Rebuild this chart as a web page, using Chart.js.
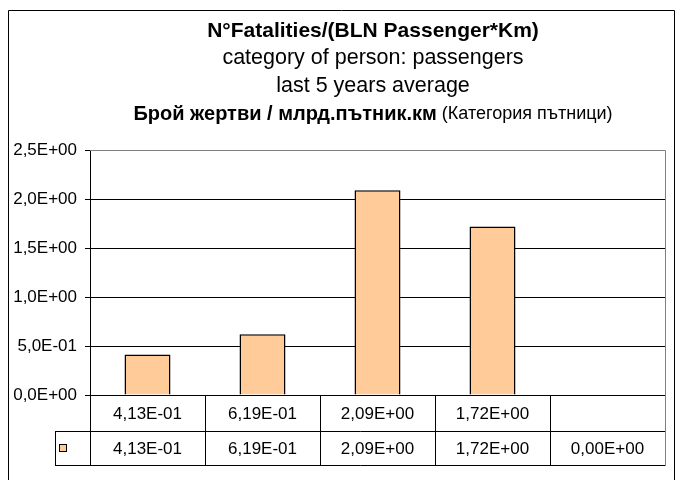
<!DOCTYPE html>
<html>
<head>
<meta charset="utf-8">
<script src="https://cdn.jsdelivr.net/npm/chart.js"></script>
<style>
  body { margin: 0; background: #fff; }
</style>
</head>
<body>
<canvas id="myChart" width="681" height="480"></canvas>
<script>
// data
var categories = ['4,13E-01', '6,19E-01', '2,09E+00', '1,72E+00', ''];
var values = [0.413, 0.619, 2.09, 1.72, 0];
var yTicks = [0, 0.5, 1, 1.5, 2, 2.5];
var titleLines = ['N°Fatalities/(BLN Passenger*Km)', 'category of person: passengers', 'last 5 years average'];
var titleBg = ['Брой жертви / млрд.пътник.км', ' (Категория пътници)'];

var FONT = '"Liberation Sans", Arial, sans-serif';
var BAR = '#FFCC99';

// 2.5 -> "2,5E+00"
function sci(v, d) {
    var s = v.toExponential(d).split('e');
    var e = parseInt(s[1], 10);
    return s[0].replace('.', ',') + 'E' + (e < 0 ? '-' : '+') + String(Math.abs(e)).padStart(2, '0');
}

// titles, data table under the axis and the outer frame
var extras = {
    id: 'extras',
    afterDraw: function (chart) {
        var c = chart.ctx, a = chart.chartArea, x = chart.scales.x;
        var cx = 373;
        c.save();
        c.fillStyle = '#000';
        c.textBaseline = 'middle';
        c.textAlign = 'center';
        c.font = 'bold 21px ' + FONT;
        c.fillText(titleLines[0], cx, 31);
        c.font = '21.5px ' + FONT;
        c.fillText(titleLines[1], cx, 58);
        c.fillText(titleLines[2], cx, 86);

        c.font = 'bold 20px ' + FONT;
        var w1 = c.measureText(titleBg[0]).width;
        c.font = '18px ' + FONT;
        var w2 = c.measureText(titleBg[1]).width;
        var sx = cx - (w1 + w2) / 2;
        c.textAlign = 'left';
        c.font = 'bold 20px ' + FONT;
        c.fillText(titleBg[0], sx, 114);
        c.font = '18px ' + FONT;
        c.fillText(titleBg[1], sx + w1, 114);

        // table
        var top = a.bottom, r1 = top + 36, r2 = r1 + 34, keyL = 55.5;
        var half = (x.getPixelForTick(1) - x.getPixelForTick(0)) / 2;
        c.lineWidth = 1;
        c.strokeStyle = '#000';
        c.beginPath();
        c.moveTo(keyL, r1 + 0.5); c.lineTo(a.right, r1 + 0.5);
        c.moveTo(keyL, r2 + 0.5); c.lineTo(a.right, r2 + 0.5);
        c.moveTo(keyL, r1); c.lineTo(keyL, r2 + 1);
        c.moveTo(a.left + 0.5, top); c.lineTo(a.left + 0.5, r2 + 1);
        for (var i = 1; i < categories.length; i++) {
            var dx = Math.round(x.getPixelForTick(i) - half) + 0.5;
            c.moveTo(dx, top); c.lineTo(dx, r2 + 1);
        }
        c.stroke();
        // gray right/top border of the plot area
        c.strokeStyle = '#808080';
        c.beginPath();
        c.moveTo(a.left, a.top + 0.5); c.lineTo(a.right + 0.5, a.top + 0.5);
        c.lineTo(a.right + 0.5, r2 + 1);
        c.stroke();

        c.textAlign = 'center';
        c.font = '17px ' + FONT;
        for (var j = 0; j < categories.length; j++) {
            var px = x.getPixelForTick(j);
            c.fillText(categories[j], px, (top + r1) / 2 + 1);
            c.fillText(sci(values[j], 2), px, (r1 + r2) / 2 + 1);
        }
        // legend key
        c.fillStyle = BAR;
        c.fillRect(59.5, 444.5, 7, 7);
        c.strokeStyle = '#000';
        c.strokeRect(59.5, 444.5, 7, 7);

        // outer frame
        c.beginPath();
        c.moveTo(8.5, 480); c.lineTo(8.5, 10.5); c.lineTo(674.5, 10.5); c.lineTo(674.5, 480);
        c.stroke();
        c.restore();
    }
};

Chart.defaults.font.family = FONT;
Chart.defaults.color = '#000';

new Chart(document.getElementById('myChart'), {
    type: 'bar',
    data: {
        labels: categories,
        datasets: [{
            label: 'passengers',
            data: values,
            backgroundColor: BAR,
            borderColor: '#000',
            borderWidth: 1.5,
            barPercentage: 0.4,
            categoryPercentage: 1.0
        }]
    },
    options: {
        responsive: false,
        animation: false,
        layout: { padding: { top: 150, left: 0, right: 16, bottom: 0 } },
        plugins: {
            legend: { display: false },
            title: { display: false },
            tooltip: { enabled: false }
        },
        scales: {
            x: {
                grid: { display: false },
                border: { display: false },
                ticks: { display: false },
                afterFit: function (s) { s.height = 85; }
            },
            y: {
                min: 0,
                max: 2.5,
                afterBuildTicks: function (s) {
                    s.ticks = yTicks.map(function (v) { return { value: v }; });
                },
                afterFit: function (s) { s.width = 90; },
                grid: {
                    color: function (ctx) { return ctx.tick && ctx.tick.value === 2.5 ? '#808080' : '#000'; },
                    tickLength: 5,
                    tickColor: '#000'
                },
                border: { color: '#000' },
                ticks: {
                    font: { size: 17 },
                    padding: 8,
                    callback: function (v) { return sci(v, 1); }
                }
            }
        }
    },
    plugins: [extras]
});
</script>
</body>
</html>
